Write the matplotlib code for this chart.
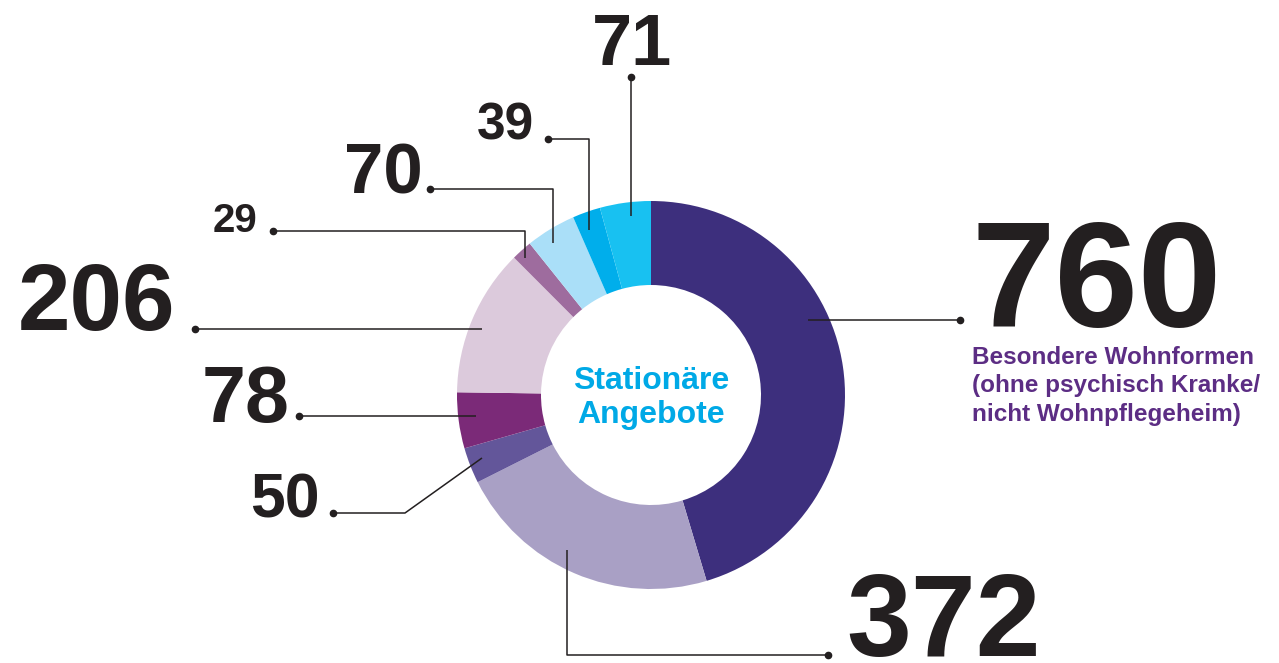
import matplotlib.pyplot as plt

# data, clockwise from 12 o'clock
values = [760, 372, 50, 78, 206, 29, 70, 39, 71]
colors = ['#3d2f7d', '#a9a0c5', '#63569a', '#7b2a78', '#dccadc',
          '#9e6c9e', '#aadff8', '#00aeeb', '#18c1f1']
center_text = 'Stationäre\nAngebote'
side_text = 'Besondere Wohnformen\n(ohne psychisch Kranke/\nnicht Wohnpflegeheim)'

W, H = 1279, 663

# layout (image pixel coords, y down): label left x, baseline y, font size, leader path
label_pos = [(972, 327, 108), (846, 656, 84), (250, 518, 45), (202, 422, 57),
             (18, 330, 68), (213, 232, 29), (344, 193, 51), (477, 140, 37),
             (592, 65, 52)]
leaders = [
    [(808, 320), (960, 320)],
    [(567, 550), (567, 655), (828, 655)],
    [(482, 458), (405, 513), (333, 513)],
    [(476, 416), (299, 416)],
    [(482, 329), (195, 329)],
    [(525, 258), (525, 231), (273, 231)],
    [(553, 243), (553, 189), (430, 189)],
    [(589, 230), (589, 139), (548, 139)],
    [(631, 216), (631, 77)],
]

plt.rcParams['font.family'] = ['Liberation Sans', 'DejaVu Sans']

fig = plt.figure(figsize=(W / 100, H / 100), dpi=100)
ax = fig.add_axes([0, 0, 1, 1])

cx, cy, r_out, ring = 651, H - 395, 194, 84
ax.pie(values, colors=colors, startangle=90, counterclock=False,
       center=(cx, cy), radius=r_out,
       wedgeprops=dict(width=ring, linewidth=0))

ax.set_xlim(0, W)
ax.set_ylim(0, H)
ax.set_aspect('equal')
ax.axis('off')

dark = '#231f20'
for v, (lx, ly, fs), path in zip(values, label_pos, leaders):
    xs = [p[0] for p in path]
    ys = [H - p[1] for p in path]
    ax.plot(xs, ys, color=dark, lw=1.1, solid_capstyle='butt', zorder=3)
    ax.plot(xs[-1], ys[-1], 'o', color=dark, ms=4.5, zorder=3)
    ax.text(lx, H - ly, str(v), fontsize=fs, fontweight='bold', color=dark,
            ha='left', va='baseline')

ax.text(cx, cy - 3, center_text, fontsize=23, fontweight='bold',
        color='#00a9e6', ha='center', va='center', linespacing=1.15)

ax.text(972, H - 346, side_text, fontsize=17.5, fontweight='bold',
        color='#5c2d84', ha='left', va='top', linespacing=1.3)

fig.savefig('out.png', dpi=100)
